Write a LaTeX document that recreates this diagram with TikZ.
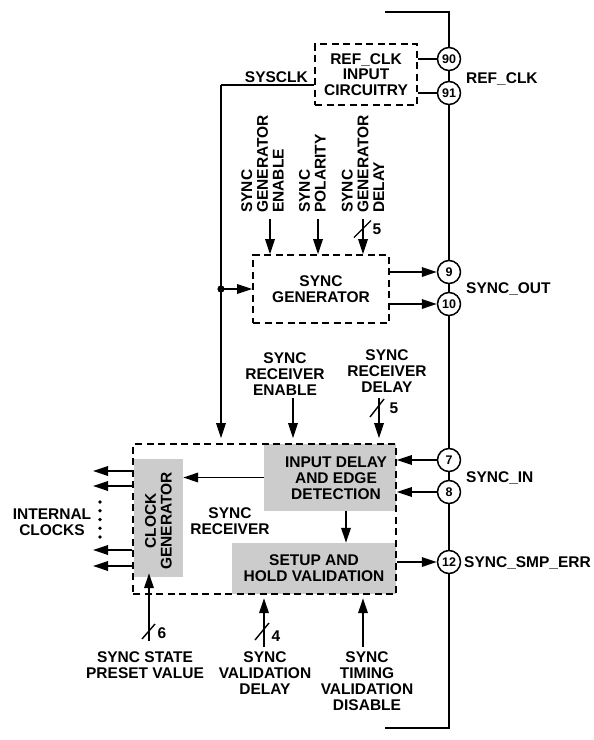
\documentclass[tikz,border=0pt]{standalone}
\usepackage{fontspec}
\setmainfont{Liberation Sans}
\usetikzlibrary{arrows.meta}
\definecolor{boxgray}{gray}{0.8}
\begin{document}
\begin{tikzpicture}[x=1pt,y=-1pt,
  txt/.style={font=\bfseries\fontsize{15.5}{15.8}\selectfont, inner sep=0pt, align=center},
  ln/.style={line width=1.8pt},
  arr/.style={line width=1.8pt, -{Triangle[length=15pt,width=9.5pt]}},
  dbox/.style={draw, line width=1.6pt, dash pattern=on 7pt off 4.5pt, inner sep=0pt},
  gbox/.style={fill=boxgray, inner sep=0pt},
  pin/.style={circle, draw, line width=1.5pt, fill=white, minimum size=23pt, inner sep=0pt, font=\bfseries\fontsize{12.5}{12.5}\selectfont},
  slash/.style={line width=1.4pt},
  rlab/.style={txt, rotate=90, anchor=west, align=left}
]
\useasboundingbox[fill=white] (0,0) rectangle (594,740);

% chip boundary
\coordinate (ct) at (385,12);
\coordinate (ctr) at (449,12);
\coordinate (cbr) at (449,728);
\coordinate (cb) at (385,728);
\draw[ln] (ct) -- (ctr) -- (cbr) -- (cb);

% pins
\node[pin] (p90) at (449,59) {90};
\node[pin] (p91) at (449,93) {91};
\node[pin] (p9) at (449,272) {9};
\node[pin] (p10) at (449,304) {10};
\node[pin] (p7) at (449,460) {7};
\node[pin] (p8) at (449,492) {8};
\node[pin] (p12) at (449,562) {12};

\node[txt, anchor=base west] (lref) at (466,83.5) {REF\_CLK};
\node[txt, anchor=base west] (lsout) at (466,293.5) {SYNC\_OUT};
\node[txt, anchor=base west] (lsin) at (466,482.5) {SYNC\_IN};
\node[txt, anchor=base west] (lsmp) at (464,567.5) {SYNC\_SMP\_ERR};

% REF_CLK input circuitry
\node[txt, dbox, minimum width=102pt, minimum height=61pt] (refbox) at (366,74.5) {REF\_CLK\\INPUT\\CIRCUITRY};
\draw[ln] (refbox.east |- p90) -- (p90.west);
\draw[ln] (refbox.east |- p91) -- (p91.west);

% sync generator
\node[txt, dbox, minimum width=136pt, minimum height=68pt] (sg) at (321,289) {SYNC\\GENERATOR};
\node[rlab] (lge) at (262.5,213) {SYNC\\GENERATOR\\ENABLE};
\node[rlab] (lsp) at (312.5,213) {SYNC\\POLARITY};
\node[rlab] (lgd) at (363,213) {SYNC\\GENERATOR\\DELAY};
\coordinate (a1) at (270,219);
\coordinate (a2) at (318,219);
\coordinate (a3) at (363,219);
\draw[arr] (a1) -- (a1 |- sg.north);
\draw[arr] (a2) -- (a2 |- sg.north);
\draw[arr] (a3) -- (a3 |- sg.north);
\draw[slash] (354,237.5) -- (371,220.5);
\node[txt] (n5a) at (377,229) {5};
\draw[arr] (p9.west -| sg.east) -- (p9.west);
\draw[arr] (p10.west -| sg.east) -- (p10.west);

% sync receiver
\node[gbox, minimum width=49pt, minimum height=118pt] (cg) at (158.5,518) {};
\node[txt, rotate=90] (cgt) at (158.5,521) {CLOCK\\GENERATOR};
\node[gbox, minimum width=132pt, minimum height=67pt] (idd) at (330,477.5) {};
\node[txt] (iddt) at (336,478) {INPUT DELAY\\AND EDGE\\DETECTION};
\node[gbox, txt, minimum width=164pt, minimum height=51pt] (sh) at (314,568.5) {SETUP AND\\HOLD VALIDATION};
\node[dbox, minimum width=263pt, minimum height=150pt] (rx) at (264.5,519) {};
\node[txt] (lrx) at (230,521) {SYNC\\RECEIVER};

% SYSCLK
\node[txt, anchor=base east] (lsys) at (308,82.5) {SYSCLK};
\coordinate (sysc) at (221,85);
\coordinate (dot) at (221,289);
\draw[ln] (refbox.west |- sysc) -- (sysc);
\draw[arr, shorten >=5pt] (sysc) -- (sysc |- rx.north);
\fill (dot) circle (3.6pt);
\draw[arr] (dot) -- (dot -| sg.west);

% receiver control inputs
\node[txt] (lre) at (285,374) {SYNC\\RECEIVER\\ENABLE};
\node[txt] (lrd) at (387,371) {SYNC\\RECEIVER\\DELAY};
\coordinate (re) at (293,398);
\coordinate (rd) at (379,398);
\draw[arr, shorten >=5pt] (re) -- (re |- rx.north);
\draw[arr, shorten >=5pt] (rd) -- (rd |- rx.north);
\draw[slash] (370,417) -- (384,399);
\node[txt] (n5b) at (394,408) {5};

% pins into receiver
\draw[arr] (p7.west) -- (p7.west -| rx.east);
\draw[arr] (p8.west) -- (p8.west -| rx.east);
\draw[arr] (p12.west -| rx.east) -- (p12.west);

% internal paths
\draw[arr] (idd.west) -- (idd.west -| cg.east);
\coordinate (dsx) at ([xshift=16pt]idd.south);
\draw[arr] (dsx) -- (dsx |- sh.north);

% internal clocks
\coordinate (o1) at (93,471);
\coordinate (o2) at (93,486);
\coordinate (o3) at (93,550);
\coordinate (o4) at (93,566);
\draw[arr] (o1 -| rx.west) -- (o1);
\draw[arr] (o2 -| rx.west) -- (o2);
\draw[arr] (o3 -| rx.west) -- (o3);
\draw[arr] (o4 -| rx.west) -- (o4);
\foreach \yy in {502,510.75,519.5,528.25,537} \fill (100,\yy) circle (1.9pt);
\node[txt] (lic) at (52,522) {INTERNAL\\CLOCKS};

% bottom inputs
\coordinate (b1) at (149,641);
\coordinate (b2) at (264,647);
\coordinate (b3) at (363,647);
\draw[arr, shorten >=-4pt] (b1) -- (b1 |- cg.south);
\draw[arr, shorten >=4pt] (b2) -- (b2 |- sh.south);
\draw[arr, shorten >=4pt] (b3) -- (b3 |- sh.south);
\draw[slash] (142,639) -- (155,624);
\node[txt] (n6) at (162,633) {6};
\draw[slash] (255,640) -- (269,623);
\node[txt] (n4) at (276,636) {4};
\node[txt] (lsv) at (145,665.5) {SYNC STATE\\PRESET VALUE};
\node[txt] (lvd) at (265,673) {SYNC\\VALIDATION\\DELAY};
\node[txt] (ltv) at (367,681) {SYNC\\TIMING\\VALIDATION\\DISABLE};
\end{tikzpicture}
\end{document}
